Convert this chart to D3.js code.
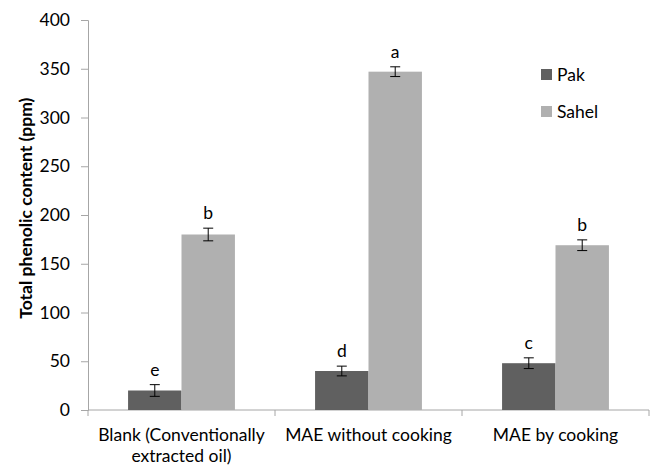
<!DOCTYPE html>
<html>
<head>
<meta charset="utf-8">
<script src="https://cdn.jsdelivr.net/npm/d3@7"></script>
<style>
  body { margin: 0; background: #fff; }
  svg { display: block; font-family: Lato, "Open Sans", sans-serif; }
</style>
</head>
<body>
<div id="app"></div>
<script>
const WIDTH = 654;
const HEIGHT = 467;

const categories = [
  ["Blank (Conventionally", "extracted oil)"],
  ["MAE without cooking"],
  ["MAE by cooking"],
];
const seriesNames = ["Pak", "Sahel"];
const pakValues = [20, 40, 48];
const sahelValues = [180, 347, 169];
const pakErrors = [6, 5, 5.5];
const sahelErrors = [6.5, 5, 5.5];
const pakLetters = ["e", "d", "c"];
const sahelLetters = ["b", "a", "b"];
const yTicks = [0, 50, 100, 150, 200, 250, 300, 350, 400];

const COLORS = ["#606060", "#b0b0b0"];
const AXIS_COLOR = "#a6a6a6";
const FONT_SIZE = 17.5;

const margin = { left: 88, right: 5, top: 20, bottom: 57 };

const svg = d3
  .select("#app")
  .append("svg")
  .attr("width", WIDTH)
  .attr("height", HEIGHT);

const x = d3
  .scaleBand()
  .domain(d3.range(categories.length))
  .range([margin.left, WIDTH - margin.right]);

// excel-style: gap width 150% -> bars take 2 / 3.5 of each band
const inner = d3
  .scaleBand()
  .domain(seriesNames)
  .range([0, x.bandwidth()])
  .paddingOuter(0.75)
  .paddingInner(0);

const y = d3
  .scaleLinear()
  .domain([0, 400])
  .range([HEIGHT - margin.bottom, margin.top]);

const series = [
  { name: "Pak", values: pakValues, errors: pakErrors, letters: pakLetters },
  { name: "Sahel", values: sahelValues, errors: sahelErrors, letters: sahelLetters },
];

// y axis
const yAxis = svg
  .append("g")
  .attr("transform", `translate(${margin.left},0)`)
  .call(d3.axisLeft(y).tickValues(yTicks).tickSize(7).tickPadding(11));
yAxis.select(".domain").attr("stroke", AXIS_COLOR);
yAxis.selectAll(".tick line").attr("stroke", AXIS_COLOR);
yAxis
  .selectAll(".tick text")
  .attr("font-size", FONT_SIZE)
  .attr("fill", "#000")
  .style("font-family", "Lato, sans-serif");

// x axis line with category boundary ticks
const xg = svg.append("g");
xg.append("line")
  .attr("x1", margin.left)
  .attr("x2", WIDTH - margin.right)
  .attr("y1", y(0))
  .attr("y2", y(0))
  .attr("stroke", AXIS_COLOR);
xg.selectAll("line.sep")
  .data(d3.range(categories.length + 1))
  .join("line")
  .attr("class", "sep")
  .attr("x1", (i) => margin.left + i * x.step())
  .attr("x2", (i) => margin.left + i * x.step())
  .attr("y1", y(0))
  .attr("y2", y(0) + 6)
  .attr("stroke", AXIS_COLOR);

xg.selectAll("text.cat")
  .data(categories)
  .join("text")
  .attr("class", "cat")
  .attr("text-anchor", "middle")
  .attr("font-size", FONT_SIZE)
  .attr("fill", "#000")
  .attr("x", (d, i) => x(i) + x.bandwidth() / 2)
  .attr("y", y(0) + 31)
  .selectAll("tspan")
  .data((d) => d)
  .join("tspan")
  .attr("x", function () {
    return this.parentNode.getAttribute("x");
  })
  .attr("dy", (d, j) => (j === 0 ? 0 : 21))
  .text((d) => d);

// bars
const groups = svg
  .selectAll("g.series")
  .data(series)
  .join("g")
  .attr("class", "series");

groups.each(function (s, si) {
  const g = d3.select(this);
  const rows = s.values.map((v, i) => ({ v, i, e: s.errors[i], l: s.letters[i] }));

  g.selectAll("rect")
    .data(rows)
    .join("rect")
    .attr("x", (d) => x(d.i) + inner(s.name))
    .attr("width", inner.bandwidth())
    .attr("y", (d) => y(d.v))
    .attr("height", (d) => y(0) - y(d.v))
    .attr("fill", COLORS[si]);

  const cx = (d) => x(d.i) + inner(s.name) + inner.bandwidth() / 2;

  const err = g.selectAll("g.err").data(rows).join("g").attr("class", "err")
    .attr("stroke", "#000")
    .attr("stroke-width", 1);
  err.append("line")
    .attr("x1", cx).attr("x2", cx)
    .attr("y1", (d) => y(d.v + d.e)).attr("y2", (d) => y(d.v - d.e));
  err.append("line")
    .attr("x1", (d) => cx(d) - 5).attr("x2", (d) => cx(d) + 5)
    .attr("y1", (d) => y(d.v + d.e)).attr("y2", (d) => y(d.v + d.e));
  err.append("line")
    .attr("x1", (d) => cx(d) - 5).attr("x2", (d) => cx(d) + 5)
    .attr("y1", (d) => y(d.v - d.e)).attr("y2", (d) => y(d.v - d.e));

  g.selectAll("text.letter")
    .data(rows)
    .join("text")
    .attr("class", "letter")
    .attr("text-anchor", "middle")
    .attr("font-size", FONT_SIZE)
    .attr("fill", "#000")
    .attr("x", cx)
    .attr("y", (d) => y(d.v + d.e) - 9)
    .text((d) => d.l);
});

// y axis title
svg.append("text")
  .attr("transform", `translate(32,${y(207)}) rotate(-90)`)
  .attr("text-anchor", "middle")
  .attr("font-size", 17.5)
  .attr("font-weight", "bold")
  .attr("fill", "#000")
  .text("Total phenolic content (ppm)");

// legend
const legend = svg
  .selectAll("g.legend")
  .data(seriesNames)
  .join("g")
  .attr("class", "legend")
  .attr("transform", (d, i) => `translate(541,${69 + i * 37})`);
legend.append("rect")
  .attr("width", 11)
  .attr("height", 11)
  .attr("fill", (d, i) => COLORS[i]);
legend.append("text")
  .attr("x", 16)
  .attr("y", 12)
  .attr("font-size", FONT_SIZE)
  .attr("fill", "#000")
  .text((d) => d);
</script>
</body>
</html>
